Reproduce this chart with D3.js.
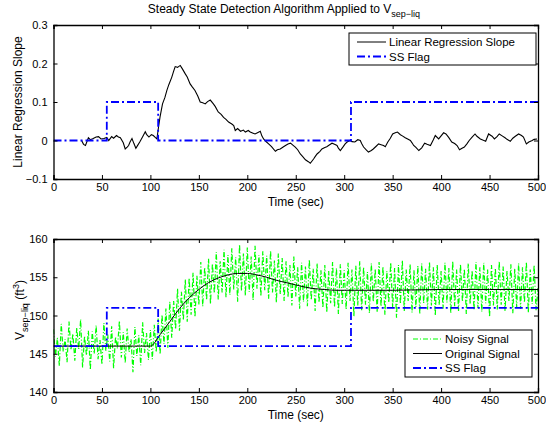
<!DOCTYPE html>
<html>
<head>
<meta charset="utf-8">
<script src="https://cdn.jsdelivr.net/npm/d3@7"></script>
<style>
  body { margin: 0; background: #fff; }
  text { font-family: "Liberation Sans", Arial, sans-serif; fill: #000; }
</style>
</head>
<body>
<div class="canvas"></div>
<script>
// ---- data ----
const slopeTime = [29,31,33,36,38,41,44,46.5,49,52,55,57,60,62,65,67,69,72,74,76,77.5,79,81,83,85,87,89,92,94.7,96,98.5,101,103,105,106.7,108.4,110,112.5,115,117,119,122,124,125.6,128,130.8,133,136,138,141,143,146,149,151.4,154,156.6,159,161.8,165,167,170,173,175.5,178,180.7,184,186,187.6,190,193,196,198,201,203,206,208,211,213.4,215,216.8,219,222,225,229,231,234,237,239.4,242,244.6,247,249.5,252,254.7,257,260,263,265,268.4,270,272,275,277,280,282,285,287.4,290,292.6,294,296,299,301,303,306,308,311,314,316.6,318,320,323,325,328,330,333,335.5,338,340.6,342.4,345,347.6,350,352.7,355,358,360,363,366,368.3,370,371.7,374,377,380,383,385.5,389,392,394,397.5,400,402.6,405,407.8,411,414,416.5,419,421.6,424,426.8,429,432,435,437,440.5,443,446,449,452.6,455,457.7,460,463,466,468,471.4,474,476.6,480,483,485,488,490.5,494,496,499];
const slopeValue = [0,-0.01,-0.013,0.007,0.002,0.005,0.009,0.01,0.004,0.005,0.008,0,0.01,0.006,0.013,0.009,0.007,-0.006,-0.022,-0.017,-0.013,-0.004,0.005,-0.008,-0.02,-0.012,-0.004,0.01,0.023,0.016,0.009,0.015,0.013,0.008,0.004,0.035,0.062,0.095,0.112,0.13,0.145,0.164,0.18,0.192,0.19,0.195,0.186,0.173,0.165,0.147,0.14,0.13,0.115,0.1,0.098,0.095,0.101,0.105,0.095,0.088,0.074,0.068,0.06,0.055,0.048,0.043,0.039,0.026,0.031,0.024,0.027,0.022,0.026,0.022,0.019,0.017,0.021,0.024,0.012,0.004,-0.002,-0.009,-0.016,-0.028,-0.024,-0.022,-0.017,-0.013,-0.009,-0.007,-0.012,-0.017,-0.024,-0.035,-0.041,-0.05,-0.055,-0.059,-0.048,-0.042,-0.035,-0.028,-0.022,-0.018,-0.016,-0.011,-0.007,-0.01,-0.013,-0.02,-0.026,-0.016,-0.009,-0.004,0,-0.003,-0.004,0.002,0,-0.008,-0.017,-0.025,-0.03,-0.026,-0.022,-0.015,-0.009,-0.011,-0.013,-0.016,-0.004,0.006,0.017,0.02,0.022,0.015,0.012,0.007,0.003,0,-0.006,-0.013,-0.018,-0.026,-0.019,-0.007,-0.01,-0.013,0.002,0.013,0.004,0.012,0.02,0.017,0.008,-0.004,-0.008,-0.013,-0.024,-0.02,-0.017,-0.008,0,0.009,0.017,0.011,0.004,0.001,-0.002,0.017,0.011,0.004,0.01,0.017,0.012,0.007,0.003,-0.002,0.006,0.011,0.017,0.013,0.009,-0.009,-0.004,0,0.003,0.004,0.013,0.01,0.007];

const flagTime = [0,55,55,108,108,307,307,500];
const flagSlope = [0,0,0.1,0.1,0,0,0.1,0.1];
const flagVolume = [146,146,151,151,146,146,151,151];

const origTime = [0,100,110,120,130,140,150,160,170,180,190,200,210,220,230,240,250,260,270,280,290,300,350,400,450,500];
const origValue = [146,146,147.5,149.2,150.9,152.3,153.4,154.3,154.9,155.3,155.5,155.5,155.3,155.0,154.6,154.3,154.0,153.7,153.5,153.4,153.3,153.3,153.3,153.4,153.4,153.4];

// noisy signal, one reading every 2 s from 0 to 500
const noisyValue = [
 148.2,144.6,147.1,143.4,148.9,145.3,146.9,143.9,149.2,145.5,
 147.6,144.1,148.4,145.6,149.5,143.2,147.3,144.8,148.0,142.9,
 147.9,145.0,148.7,144.3,146.8,143.6,149.0,145.4,147.5,144.0,
 148.6,143.1,147.2,145.7,149.3,144.5,147.8,143.8,148.3,145.2,
 146.9,142.6,148.5,144.7,147.4,143.5,149.1,145.1,147.7,144.2,
 148.1,144.3,148.8,145.2,149.6,144.9,150.1,146.3,150.9,145.8,
 151.8,147.1,151.9,148.2,153.5,148.0,153.1,149.4,154.7,149.2,
 154.9,150.1,155.6,149.8,155.2,151.4,157.0,151.2,156.3,152.0,
 157.4,151.5,156.8,152.9,158.3,152.1,157.1,153.0,158.6,152.4,
 157.9,152.7,158.8,153.4,157.6,151.8,159.3,153.2,158.1,152.6,
 158.9,153.1,157.7,152.0,159.1,153.5,157.9,152.5,158.4,153.3,
 157.8,152.2,158.5,153.0,157.2,151.7,158.1,152.8,157.5,151.9,
 157.1,152.4,156.6,151.3,157.7,152.5,156.3,150.9,156.9,151.8,
 156.4,151.2,157.3,152.0,156.1,150.6,156.8,151.7,155.9,151.0,
 156.6,150.4,155.8,151.6,157.0,151.1,156.2,150.2,156.7,151.5,
 155.9,150.8,156.9,151.9,156.0,149.9,156.5,151.3,157.1,150.7,
 156.3,151.4,155.7,150.3,156.8,151.8,156.1,150.5,157.0,151.2,
 156.4,150.1,155.8,151.7,156.9,151.0,156.2,149.7,156.6,151.5,
 157.2,150.6,156.0,151.9,156.7,150.4,155.9,151.1,156.5,150.2,
 156.8,151.6,156.1,150.8,157.0,151.3,156.3,150.0,156.6,151.4,
 155.8,150.9,156.9,151.7,156.2,150.3,157.1,151.2,156.0,150.6,
 156.7,151.8,156.1,150.2,156.8,151.5,155.9,150.7,157.0,151.0,
 156.3,150.5,156.9,151.6,156.0,149.8,156.6,151.3,156.2,150.8,
 157.1,151.4,156.4,150.6,155.8,151.9,156.7,150.3,156.1,151.1,
 156.8,150.9,156.3,151.7,157.0,150.4,156.0,151.5,156.6,150.7,
 153.6];
const noisyTime = noisyValue.map((d, i) => i * 2);

const xTicks = [0,50,100,150,200,250,300,350,400,450,500];
const slopeTicks = [-0.1,0,0.1,0.2,0.3];
const volTicks = [140,145,150,155,160];

// ---- layout ----
const width = 546, height = 425;
const svg = d3.select('.canvas').append('svg')
    .attr('width', width)
    .attr('height', height);

const left = 53.5, right = 538;
const top1 = 25, bot1 = 179;
const top2 = 239, bot2 = 392;

const x = d3.scaleLinear().domain([0, 500]).range([left, right]);
const y1 = d3.scaleLinear().domain([-0.1, 0.3]).range([bot1, top1]);
const y2 = d3.scaleLinear().domain([140, 160]).range([bot2, top2]);

const blue = '#0000ff', green = '#00ff00';
const flagDash = '8,3,2,3';
const noisyDash = '5,2,1,2';

const fmt = d => d < 0 ? '\u2212' + Math.abs(d) : String(d);

function frame(y, ticks, top, bot) {
    const g = svg.append('g');
    g.append('g').attr('transform', `translate(0,${bot})`)
        .call(d3.axisBottom(x).tickValues(xTicks).tickSize(-4).tickPadding(4));
    g.append('g').attr('transform', `translate(0,${top})`)
        .call(d3.axisTop(x).tickValues(xTicks).tickSize(-4).tickFormat(''));
    g.append('g').attr('transform', `translate(${left},0)`)
        .call(d3.axisLeft(y).tickValues(ticks).tickSize(-4).tickPadding(6).tickFormat(fmt));
    g.append('g').attr('transform', `translate(${right},0)`)
        .call(d3.axisRight(y).tickValues(ticks).tickSize(-4).tickFormat(''));
    g.selectAll('.domain').attr('stroke', '#000').attr('stroke-width', 1.3);
    g.selectAll('.tick line').attr('stroke', '#000');
    g.selectAll('.tick text').attr('font-size', 11).attr('font-family', '"Liberation Sans", Arial, sans-serif');
    // keep the last x label inside the window
    g.selectAll('.tick text').filter(d => d === 500).attr('dx', -1.5);
    return g;
}

function clip(id, top, bot) {
    svg.append('clipPath').attr('id', id).append('rect')
        .attr('x', left).attr('y', top).attr('width', right - left).attr('height', bot - top);
}
clip('c1', top1, bot1);
clip('c2', top2, bot2);

// ---- top panel ----
const line1 = d3.line().x(d => x(d[0])).y(d => y1(d[1]));
const p1 = svg.append('g').attr('clip-path', 'url(#c1)');
p1.append('path')
    .attr('d', line1(d3.zip(slopeTime, slopeValue)))
    .attr('fill', 'none').attr('stroke', '#000').attr('stroke-width', 1.1);
p1.append('path')
    .attr('d', line1(d3.zip(flagTime, flagSlope)))
    .attr('fill', 'none').attr('stroke', blue).attr('stroke-width', 1.8)
    .attr('stroke-dasharray', flagDash);
frame(y1, slopeTicks, top1, bot1);

// ---- bottom panel ----
const line2 = d3.line().x(d => x(d[0])).y(d => y2(d[1]));
const smooth2 = d3.line().curve(d3.curveMonotoneX).x(d => x(d[0])).y(d => y2(d[1]));
const p2 = svg.append('g').attr('clip-path', 'url(#c2)');
p2.append('path')
    .attr('d', line2(d3.zip(noisyTime, noisyValue)))
    .attr('fill', 'none').attr('stroke', green).attr('stroke-width', 1.2)
    .attr('stroke-dasharray', noisyDash);
p2.append('path')
    .attr('d', smooth2(d3.zip(origTime, origValue)))
    .attr('fill', 'none').attr('stroke', '#000').attr('stroke-width', 1);
p2.append('path')
    .attr('d', line2(d3.zip(flagTime, flagVolume)))
    .attr('fill', 'none').attr('stroke', blue).attr('stroke-width', 1.8)
    .attr('stroke-dasharray', flagDash);
frame(y2, volTicks, top2, bot2);

// ---- texts ----
const title = svg.append('text').attr('x', 284).attr('y', 13)
    .attr('text-anchor', 'middle').attr('font-size', 12);
title.append('tspan').text('Steady State Detection Algorithm Applied to V');
title.append('tspan').attr('dy', 4).attr('font-size', 9).text('sep\u2212liq');

svg.append('text').attr('x', (left + right) / 2).attr('y', 206)
    .attr('text-anchor', 'middle').attr('font-size', 12).text('Time (sec)');
svg.append('text').attr('x', (left + right) / 2).attr('y', 419)
    .attr('text-anchor', 'middle').attr('font-size', 12).text('Time (sec)');

svg.append('text').attr('transform', `translate(22,${(top1 + bot1) / 2}) rotate(-90)`)
    .attr('text-anchor', 'middle').attr('font-size', 12).text('Linear Regression Slope');

const yl = svg.append('text').attr('transform', `translate(24,310) rotate(-90)`)
    .attr('text-anchor', 'middle').attr('font-size', 12);
yl.append('tspan').text('V');
yl.append('tspan').attr('dy', 4).attr('font-size', 9).text('sep\u2212liq');
yl.append('tspan').attr('dy', -4).text(' (ft');
yl.append('tspan').attr('dy', -5).attr('font-size', 9).text('3');
yl.append('tspan').attr('dy', 5).text(')');

// ---- legends ----
function legend(x0, y0, w, items) {
    const g = svg.append('g');
    g.append('rect').attr('x', x0).attr('y', y0).attr('width', w).attr('height', items.length * 15 + 2)
        .attr('fill', '#fff').attr('stroke', '#000').attr('stroke-width', 1);
    items.forEach((it, i) => {
        const yy = y0 + 9 + i * 14.5;
        g.append('line').attr('x1', x0 + 8).attr('x2', x0 + 37).attr('y1', yy).attr('y2', yy)
            .attr('stroke', it.color).attr('stroke-width', it.w)
            .attr('stroke-dasharray', it.dash || null);
        g.append('text').attr('x', x0 + 40).attr('y', yy + 4).attr('font-size', 11.5).text(it.label);
    });
}
legend(349, 33, 187, [
    { label: 'Linear Regression Slope', color: '#000', w: 1 },
    { label: 'SS Flag', color: blue, w: 1.8, dash: flagDash }
]);
legend(405, 330, 127, [
    { label: 'Noisy Signal', color: green, w: 1, dash: noisyDash },
    { label: 'Original Signal', color: '#000', w: 1 },
    { label: 'SS Flag', color: blue, w: 1.8, dash: flagDash }
]);
</script>
</body>
</html>
